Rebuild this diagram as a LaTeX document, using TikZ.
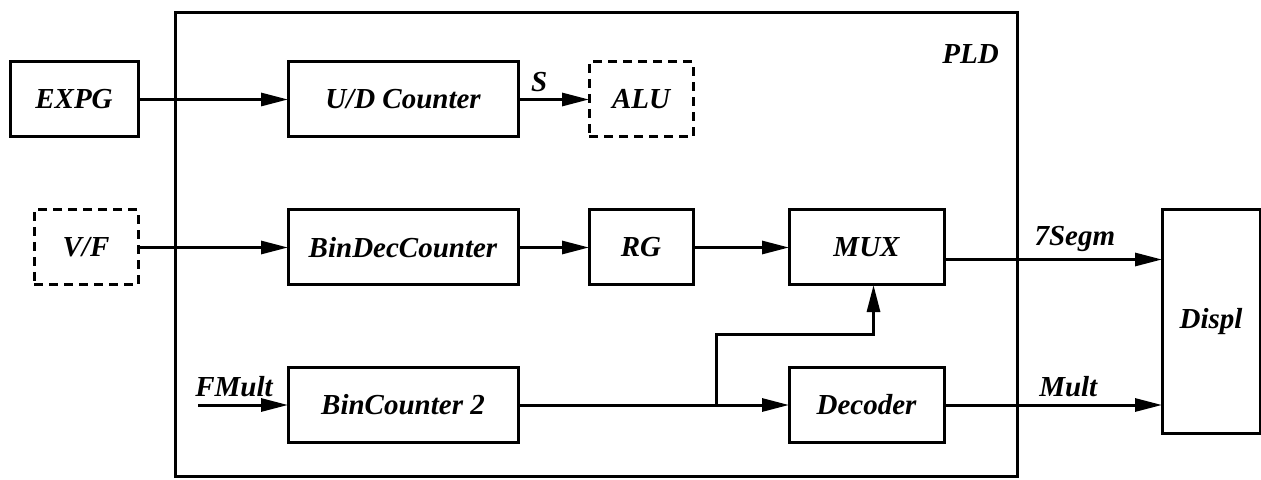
\documentclass[tikz,border=0pt]{standalone}
\usepackage{fontspec}
\setmainfont{Liberation Serif}
\usetikzlibrary{arrows.meta,positioning,calc,fit}

\begin{document}
\begin{tikzpicture}[
  node distance=36.5pt and 75pt,
  box/.style={draw, line width=1.5pt, outer sep=0pt, minimum height=37.5pt, minimum width=52pt, inner sep=2pt, align=center, font=\fontsize{14.5}{16}\selectfont\bfseries\itshape},
  wbox/.style={box, minimum width=115pt},
  mbox/.style={box, minimum width=77.5pt},
  sbox/.style={box, minimum width=64pt},
  dbox/.style={box, dash pattern=on 4.5pt off 3pt},
  lbl/.style={font=\fontsize{14.5}{16}\selectfont\bfseries\itshape},
  arr/.style={-{Triangle[length=13.5pt,width=6.5pt]}, line width=1.5pt},
]
\useasboundingbox (0,0) rectangle (630.5pt,-240pt);
\node[wbox] (udc) at (201.5pt,-49.75pt) {U/D Counter};
\node[sbox, left=75pt of udc] (expg) {EXPG};
\node[dbox, right=35.5pt of udc] (alu) {ALU};
\node[wbox, below=of udc] (bdc) {BinDecCounter};
\node[sbox, dbox, left=75pt of bdc] (vf) {V/F};
\node[box, right=35.5pt of bdc] (rg) {RG};
\node[mbox, right=48pt of rg] (mux) {MUX};
\node[wbox, below=41.25pt of bdc] (bc2) {BinCounter 2};
\node[mbox, below=41.25pt of mux] (dec) {Decoder};
\node[box, minimum width=49pt, minimum height=111.5pt, right=109pt of mux.north east, anchor=north west] (displ) {Displ};
% PLD frame
\coordinate (pldnw) at ($(expg.east |- udc.north)+(18.5pt,24.5pt)$);
\coordinate (pldse) at ($(mux.east |- bc2.south)+(36.5pt,-17pt)$);
\node[draw, line width=1.5pt, fit=(pldnw)(pldse), inner sep=0pt] (pld) {};
\node[lbl] (pldlbl) at ($(pld.north east)+(-24pt,-21.5pt)$) {PLD};
\draw[arr] (expg) -- (udc);
\draw[arr] (udc) -- node[lbl, above, pos=0.3] {S} (alu);
\draw[arr] (vf) -- (bdc);
\draw[arr] (bdc) -- (rg);
\draw[arr] (rg) -- (mux);
\coordinate[left=45pt of bc2] (fin);
\draw[arr] (fin) -- node[lbl, above, pos=0.4] {FMult} (bc2);
\draw[arr] (bc2) -- (dec);
\coordinate[left=36.5pt of dec] (split);
\draw[arr] (split) -- ++(0,35.5pt) -| ([xshift=3.5pt]mux.south);
\draw[arr] ([yshift=-6pt]mux.east) -- node[lbl, above, pos=0.6] {7Segm} ([yshift=-6pt]mux.east -| displ.west);
\draw[arr] (dec) -- node[lbl, above, pos=0.57] {Mult} (dec -| displ.west);
\end{tikzpicture}
\end{document}
